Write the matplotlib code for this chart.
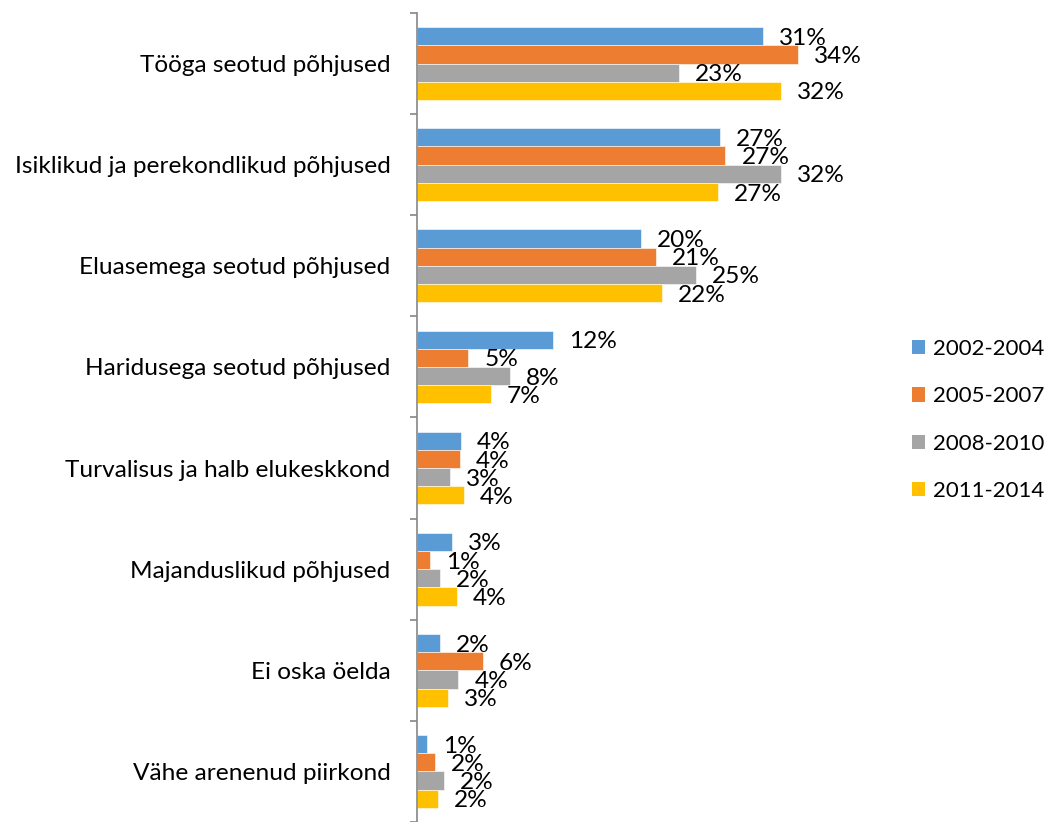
import matplotlib
matplotlib.use("Agg")
import matplotlib.pyplot as plt
from matplotlib.patches import Patch
import numpy as np

categories = [
    "Tööga seotud põhjused",
    "Isiklikud ja perekondlikud põhjused",
    "Eluasemega seotud põhjused",
    "Haridusega seotud põhjused",
    "Turvalisus ja halb elukeskkond",
    "Majanduslikud põhjused",
    "Ei oska öelda",
    "Vähe arenenud piirkond",
]
series_names = ["2002-2004", "2005-2007", "2008-2010", "2011-2014"]
v2002 = [30.65, 26.8, 19.8, 12.0, 3.9, 3.06, 2.06, 0.85]
v2005 = [33.7, 27.3, 21.15, 4.54, 3.8, 1.18, 5.84, 1.62]
v2008 = [23.2, 32.2, 24.7, 8.2, 2.9, 2.0, 3.66, 2.36]
v2011 = [32.2, 26.6, 21.65, 6.55, 4.16, 3.55, 2.77, 1.86]
series_values = [v2002, v2005, v2008, v2011]
colors = ["#5B9BD5", "#ED7D31", "#A5A5A5", "#FFC000"]

W, H = 1052, 822
fig = plt.figure(figsize=(W / 100, H / 100), dpi=100)
ax_left, ax_right, ax_top = 417, 869, 13
ax = fig.add_axes([ax_left / W, 0, (ax_right - ax_left) / W, (H - ax_top) / H])

FONT = "Lato"
FS = 17.6
y = np.arange(len(categories))
bh = 0.18
offsets = [-1.5 * bh, -0.5 * bh, 0.5 * bh, 1.5 * bh]
for vals, off, col, name in zip(series_values, offsets, colors, series_names):
    bars = ax.barh(y + off, vals, height=bh, color=col, edgecolor="white", linewidth=0.4, label=name)
    for b, v in zip(bars, vals):
        ax.annotate(f"{round(v)}%", (v, b.get_y() + b.get_height() / 2),
                    xytext=(11.5, -1.5), textcoords="offset points",
                    ha="left", va="center", fontsize=FS, family=FONT, color="black")

units = (H - ax_top) / 101.7
ax.set_ylim(-0.5 + units, -0.5)
ax.set_xlim(0, 40)

ax.set_yticks(np.arange(len(categories) + 1) - 0.5)
ax.set_yticklabels([])
ax.set_yticks(y, minor=True)
ax.set_yticklabels(categories, minor=True, fontsize=FS, family=FONT)
ax.tick_params(axis="y", which="minor", length=0, pad=19)
ax.tick_params(axis="y", which="major", length=5, width=1.2, color="#868686", direction="out")
ax.set_xticks([])
for s in ["top", "right", "bottom"]:
    ax.spines[s].set_visible(False)
ax.spines["left"].set_color("#868686")
ax.spines["left"].set_linewidth(1.2)

LFS = 16
handles = [Patch(facecolor=c, edgecolor="none") for c in colors]
fig.legend(handles, series_names, loc="center left",
           bbox_to_anchor=(912 / W, 1 - 420 / H), frameon=False, borderpad=0,
           borderaxespad=0,
           prop={"family": FONT, "size": LFS}, handlelength=0.6, handleheight=0.6,
           handletextpad=0.36, labelspacing=1.23)

fig.savefig("out.png", dpi=100)
